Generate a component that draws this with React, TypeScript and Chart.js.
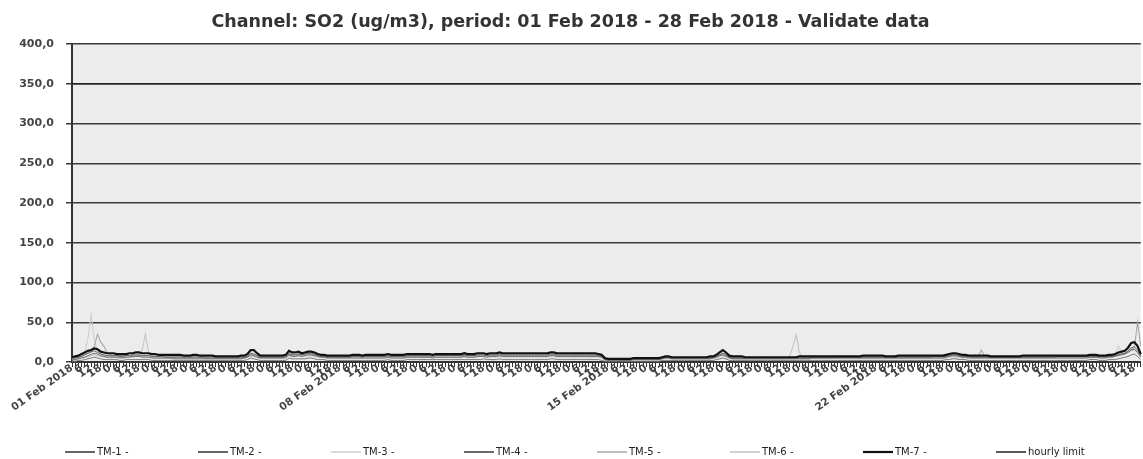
import React, { useEffect, useRef } from "react";
import { Chart, registerables } from "chart.js";

Chart.register(...registerables);

// 2-hourly samples, 12 per day, 01 Feb 2018 - 28 Feb 2018
const WEEK_LABELS = ["01 Feb 2018", "08 Feb 2018", "15 Feb 2018", "22 Feb 2018"];
const DAY_COUNT = 28;
const SAMPLES_PER_DAY = 12;
const HOURS_PER_SAMPLE = 2;

const categories: string[] = Array.from({ length: DAY_COUNT * SAMPLES_PER_DAY }, (_, i) => {
  const day = Math.floor(i / SAMPLES_PER_DAY);
  const hour = (i % SAMPLES_PER_DAY) * HOURS_PER_SAMPLE;
  if (hour === 0 && day % 7 === 0) return WEEK_LABELS[day / 7];
  return String(hour);
});

const TITLE = "Channel: SO2 (ug/m3), period: 01 Feb 2018 - 28 Feb 2018 - Validate data";
const Y_TICKS = [0, 50, 100, 150, 200, 250, 300, 350, 400];
const HOURLY_LIMIT = 350;

const tm1 = [
  5,5,6,7,9,11,13,14,12,10,9,8,
  8,8,8,7,7,8,8,9,9,9,8,8,
  8,7,7,7,7,6,6,6,6,6,6,6,
  6,6,6,6,6,6,5,5,5,5,5,5,
  5,5,5,5,5,5,6,7,11,10,8,6,
  6,6,6,6,6,6,6,7,10,9,9,10,
  9,10,11,11,10,8,7,7,6,6,6,6,
  6,6,6,6,7,7,7,6,7,7,7,7,
  7,7,7,8,7,7,7,7,7,8,8,8,
  8,8,8,8,8,7,8,8,8,8,8,8,
  8,8,8,9,8,8,8,9,9,9,8,9,
  9,9,10,9,9,9,9,9,9,9,9,9,
  9,9,9,9,9,9,10,10,9,9,9,9,
  9,9,9,9,9,9,9,9,9,8,7,3,
  3,3,3,3,3,3,3,3,4,4,4,4,
  4,4,4,4,4,5,6,6,5,5,5,5,
  5,5,5,5,5,5,5,5,5,6,7,9,
  11,9,6,5,5,5,5,5,5,5,5,5,
  5,5,5,5,5,5,5,5,5,5,5,5,
  5,5,5,5,6,6,6,6,6,6,6,6,
  6,6,6,6,6,6,6,6,6,6,6,6,
  6,6,6,6,6,6,6,6,6,6,6,6,
  6,6,6,6,6,6,7,7,7,7,7,8,
  9,9,8,7,7,7,6,6,6,6,6,6,
  6,6,6,6,6,6,6,6,6,6,6,6,
  6,6,6,6,6,6,6,6,6,7,7,7,
  7,7,7,7,7,7,7,7,7,7,7,7,
  7,7,7,8,9,10,11,14,18,19,15,8,
];

const tm2 = [
  3,3,4,5,6,8,10,11,10,8,7,6,
  6,6,6,5,5,6,6,7,7,7,6,6,
  6,5,5,5,5,5,5,5,4,4,4,4,
  4,4,4,4,4,4,4,4,4,4,4,4,
  4,4,4,4,4,4,5,6,9,8,6,5,
  5,5,5,5,5,5,5,5,9,7,7,8,
  7,8,9,9,8,7,6,6,5,5,5,5,
  5,5,5,5,5,5,5,5,5,5,5,5,
  5,5,5,6,5,5,5,5,5,6,6,6,
  6,6,6,6,6,5,6,6,6,6,6,6,
  6,6,6,7,6,6,6,7,7,7,6,7,
  7,7,8,7,7,7,7,7,7,7,7,7,
  7,7,7,7,7,7,8,8,7,7,7,7,
  7,7,7,7,7,7,7,7,7,7,6,3,
  2,2,2,2,2,2,2,2,3,3,3,3,
  3,3,3,3,3,4,5,5,4,4,4,4,
  4,4,4,4,4,4,4,4,4,5,6,8,
  9,7,5,4,4,4,4,4,4,4,4,4,
  4,4,4,4,4,4,4,4,4,4,4,4,
  4,4,4,4,5,5,5,5,5,5,5,5,
  5,5,5,5,5,5,5,5,5,5,5,5,
  5,5,5,5,5,5,5,5,5,5,5,5,
  5,5,5,5,5,5,5,5,5,5,6,7,
  8,8,7,6,6,5,5,5,5,5,5,5,
  5,5,5,5,5,5,5,5,5,5,5,5,
  5,5,5,5,5,5,5,5,5,5,5,5,
  5,5,5,5,5,5,5,6,6,6,5,5,
  5,6,6,7,8,9,10,12,15,16,12,6,
];

const tm3 = [
  4,5,6,8,12,30,60,28,14,10,8,7,
  7,7,6,6,6,6,7,7,7,7,7,6,
  6,6,6,5,5,5,5,5,5,5,5,5,
  5,5,5,5,5,5,5,5,5,5,5,5,
  5,5,5,5,5,5,5,6,8,8,6,5,
  5,5,5,5,5,5,5,6,8,7,7,8,
  7,8,8,8,7,6,6,6,5,5,5,5,
  5,5,5,5,5,5,5,5,5,5,5,5,
  5,5,5,6,5,5,5,5,5,6,6,6,
  6,6,6,6,6,6,6,6,6,6,6,6,
  6,6,6,6,6,6,6,6,7,7,6,6,
  6,6,7,6,6,6,6,6,6,6,6,6,
  6,6,6,6,6,6,7,7,6,6,6,6,
  6,6,6,6,6,6,6,6,6,6,5,3,
  3,3,3,3,3,3,3,3,3,3,3,3,
  3,3,3,3,3,4,4,4,4,4,4,4,
  4,4,4,4,4,4,4,4,4,4,5,7,
  8,7,5,4,4,4,4,4,4,4,4,4,
  4,4,4,4,4,4,4,4,4,4,4,4,
  4,4,4,4,4,4,4,4,4,4,4,4,
  4,4,4,4,4,4,4,4,4,4,4,4,
  4,4,4,4,4,4,4,4,4,4,4,4,
  4,4,4,4,4,4,4,4,4,4,5,6,
  6,6,5,5,5,5,5,5,5,5,5,5,
  5,5,5,5,5,5,5,5,5,5,5,5,
  5,5,5,5,5,5,5,5,5,5,5,5,
  5,5,5,5,5,5,5,5,5,6,6,6,
  6,7,8,10,20,12,10,12,14,15,12,6,
];

const tm4 = [
  1,1,2,2,3,4,5,6,5,4,3,3,
  3,3,3,2,2,3,3,3,3,3,3,3,
  3,2,2,2,2,2,2,2,2,2,2,2,
  2,2,2,2,2,2,2,2,2,2,2,2,
  2,2,2,2,2,2,2,3,5,4,3,2,
  2,2,2,2,2,2,2,2,5,4,4,4,
  4,4,5,5,4,3,3,3,2,2,2,2,
  2,2,2,2,2,2,2,2,2,2,2,2,
  2,2,2,3,2,2,2,2,2,3,3,3,
  3,3,3,3,3,3,3,3,3,3,3,3,
  3,3,3,3,3,3,3,3,3,4,3,3,
  3,3,4,3,3,3,3,3,3,3,3,3,
  3,3,3,3,3,3,4,4,3,3,3,3,
  3,3,3,3,3,3,3,3,3,3,2,1,
  1,1,1,1,1,1,1,1,1,1,1,1,
  1,1,1,1,1,2,2,2,2,2,2,2,
  2,2,2,2,2,2,2,2,2,2,3,4,
  5,4,2,2,2,2,2,2,2,2,2,2,
  2,2,2,2,2,2,2,2,2,2,2,2,
  2,2,2,2,2,2,2,2,2,2,2,2,
  2,2,2,2,2,2,2,2,2,2,2,2,
  2,2,2,2,2,2,2,2,2,2,2,2,
  2,2,2,2,2,2,2,2,2,2,3,3,
  4,4,3,3,3,2,2,2,2,2,2,2,
  2,2,2,2,2,2,2,2,2,2,2,2,
  2,2,2,2,2,2,2,2,2,2,2,2,
  2,2,2,2,2,2,2,3,3,3,2,2,
  2,3,3,3,4,5,6,7,9,10,7,3,
];

const tm5 = [
  5,5,6,7,9,11,13,20,35,25,20,12,
  9,8,8,8,8,8,8,8,8,8,8,8,
  8,7,7,7,7,7,7,7,7,7,7,6,
  6,6,7,7,6,6,6,6,6,6,6,6,
  6,6,6,6,6,6,6,7,10,10,8,6,
  6,6,6,6,6,6,6,7,11,9,9,10,
  9,10,10,10,9,8,7,7,7,7,7,7,
  7,7,7,7,7,7,7,7,7,7,7,7,
  7,7,7,7,7,7,7,7,7,7,7,7,
  7,7,7,7,7,7,8,8,8,8,8,8,
  8,8,8,8,8,8,8,8,8,8,8,8,
  8,8,9,8,8,8,8,8,8,8,8,8,
  8,8,8,8,8,8,9,9,8,8,8,8,
  8,8,8,8,8,8,8,8,8,8,7,4,
  4,4,4,4,4,4,4,4,4,4,4,4,
  4,4,4,4,4,5,6,6,5,5,5,5,
  5,5,5,5,5,5,5,5,5,6,7,9,
  11,9,6,5,5,5,5,5,5,5,5,5,
  5,5,5,5,5,5,5,5,5,5,5,5,
  5,5,5,5,5,5,5,5,5,5,5,5,
  6,6,6,6,6,6,6,6,6,6,6,6,
  6,6,6,6,6,6,6,6,6,6,6,6,
  6,6,6,6,6,6,6,6,6,6,7,8,
  9,9,8,7,7,7,6,6,7,15,8,6,
  6,6,6,6,6,6,6,6,6,6,6,6,
  6,6,6,6,6,6,6,6,6,6,6,6,
  6,6,6,6,6,6,6,6,6,6,6,6,
  6,7,7,8,9,10,11,13,16,18,50,20,
];

const tm6 = [
  3,3,4,5,6,7,8,9,8,7,6,6,
  6,6,6,6,6,6,6,6,7,8,15,35,
  12,6,5,5,5,5,5,5,5,5,5,5,
  5,5,5,5,5,5,5,5,5,5,5,5,
  5,5,5,5,5,5,5,6,7,7,6,5,
  5,5,5,5,5,5,5,6,15,8,7,8,
  7,8,9,9,8,7,6,6,6,6,6,6,
  6,6,6,6,6,6,6,6,6,6,6,6,
  6,6,6,6,6,6,6,6,6,6,6,6,
  6,6,6,6,6,6,6,6,6,6,6,6,
  6,6,6,7,6,6,6,7,7,7,6,7,
  7,7,7,7,7,7,7,7,7,7,7,7,
  7,7,7,7,7,7,8,8,7,7,7,7,
  7,7,7,7,7,7,7,7,7,7,6,3,
  3,3,3,3,3,3,3,3,3,3,3,3,
  3,3,3,3,3,4,5,5,4,4,4,4,
  4,4,4,4,4,4,4,4,4,5,6,8,
  9,8,5,4,4,4,4,4,4,4,4,4,
  4,4,4,4,4,4,4,4,5,8,20,34,
  12,6,5,5,5,5,5,5,5,5,5,5,
  5,5,5,5,5,5,5,5,5,5,5,5,
  5,5,5,5,5,5,5,5,5,5,5,5,
  5,5,5,5,5,5,5,5,5,5,6,7,
  7,7,6,6,6,6,6,6,6,6,6,6,
  6,6,6,6,6,6,6,6,6,6,6,6,
  6,6,6,6,6,6,6,6,6,6,6,6,
  6,6,6,6,6,6,6,6,6,7,7,7,
  7,7,7,8,9,10,11,13,15,16,14,8,
];

const tm7 = [
  6,7,8,10,12,14,15,17,16,13,12,11,
  11,11,10,10,10,10,11,11,12,12,11,11,
  11,10,10,9,9,9,9,9,9,9,9,8,
  8,8,9,9,8,8,8,8,8,7,7,7,
  7,7,7,7,7,8,8,10,15,15,11,8,
  8,8,8,8,8,8,8,9,14,12,12,13,
  11,12,13,13,12,10,9,9,8,8,8,8,
  8,8,8,8,9,9,9,8,9,9,9,9,
  9,9,9,10,9,9,9,9,9,10,10,10,
  10,10,10,10,10,9,10,10,10,10,10,10,
  10,10,10,11,10,10,10,11,11,11,10,11,
  11,11,12,11,11,11,11,11,11,11,11,11,
  11,11,11,11,11,11,12,12,11,11,11,11,
  11,11,11,11,11,11,11,11,11,10,9,5,
  4,4,4,4,4,4,4,4,5,5,5,5,
  5,5,5,5,5,6,7,7,6,6,6,6,
  6,6,6,6,6,6,6,6,7,7,9,12,
  15,12,8,7,7,7,7,6,6,6,6,6,
  6,6,6,6,6,6,6,6,6,6,6,6,
  7,7,7,7,7,7,7,7,7,7,7,7,
  7,7,7,7,7,7,7,7,8,8,8,8,
  8,8,8,7,7,7,7,8,8,8,8,8,
  8,8,8,8,8,8,8,8,8,8,9,10,
  11,11,10,9,9,8,8,8,8,8,8,8,
  7,7,7,7,7,7,7,7,7,7,8,8,
  8,8,8,8,8,8,8,8,8,8,8,8,
  8,8,8,8,8,8,8,9,9,9,8,8,
  8,9,9,10,12,13,14,18,24,25,20,10,
];

const SERIES_NAMES = ["TM-1 -", "TM-2 -", "TM-3 -", "TM-4 -", "TM-5 -", "TM-6 -", "TM-7 -", "hourly limit"];

const FONT = "'DejaVu Sans', Verdana, sans-serif";

const plotBackground = {
  id: "plotBackground",
  beforeDraw(chart: any) {
    const { ctx, chartArea } = chart;
    if (!chartArea) return;
    ctx.save();
    ctx.fillStyle = "#ececec";
    ctx.fillRect(chartArea.left, chartArea.top, chartArea.right - chartArea.left, chartArea.bottom - chartArea.top);
    ctx.restore();
  },
};

const rowLegend = {
  id: "rowLegend",
  afterDraw(chart: any) {
    const { ctx } = chart;
    ctx.save();
    ctx.font = `10px ${FONT}`;
    ctx.textBaseline = "middle";
    ctx.textAlign = "left";
    const y = chart.height - 7;
    const start = 65;
    const step = 133;
    const lineLen = 30;
    chart.data.datasets.forEach((ds: any, i: number) => {
      const x = start + i * step;
      ctx.strokeStyle = ds.legendColor || ds.borderColor;
      ctx.lineWidth = Math.max(1.5, ds.borderWidth);
      ctx.beginPath();
      ctx.moveTo(x, y);
      ctx.lineTo(x + lineLen, y);
      ctx.stroke();
      ctx.fillStyle = "#222";
      ctx.fillText(ds.label, x + lineLen + 2, y);
    });
    ctx.restore();
  },
};

export default function App() {
  const canvasRef = useRef<HTMLCanvasElement | null>(null);

  useEffect(() => {
    if (!canvasRef.current) return;
    const limitData = categories.map(() => HOURLY_LIMIT);
    const mk = (label: string, data: number[], color: string, width: number, order: number, legendColor?: string) => ({
      label,
      data,
      borderColor: color,
      backgroundColor: color,
      legendColor,
      borderWidth: width,
      pointRadius: 0,
      tension: 0,
      order,
    });
    const chart = new Chart(canvasRef.current, {
      type: "line",
      data: {
        labels: categories,
        datasets: [
          mk(SERIES_NAMES[0], tm1, "#666666", 1, 1, "#333333"),
          mk(SERIES_NAMES[1], tm2, "#707070", 1, 2, "#333333"),
          mk(SERIES_NAMES[2], tm3, "#cfcfcf", 1.1, 6),
          mk(SERIES_NAMES[3], tm4, "#7a7a7a", 1, 3, "#3a3a3a"),
          mk(SERIES_NAMES[4], tm5, "#a8a8a8", 1.1, 4),
          mk(SERIES_NAMES[5], tm6, "#c4c4c4", 1.1, 5),
          mk(SERIES_NAMES[6], tm7, "#111111", 2.2, 0),
          mk(SERIES_NAMES[7], limitData, "#222222", 1.5, 7),
        ],
      },
      options: {
        animation: false,
        responsive: true,
        maintainAspectRatio: false,
        layout: { padding: { top: 0, right: 2, bottom: 42, left: 0 } },
        plugins: {
          legend: { display: false },
          tooltip: { enabled: false },
          title: {
            display: true,
            text: TITLE,
            color: "#333",
            font: { family: FONT, size: 17.5, weight: "bold" },
            padding: { top: 11.5, bottom: 11.5 },
          },
        },
        scales: {
          x: {
            ticks: {
              autoSkip: false,
              maxRotation: 35,
              minRotation: 35,
              padding: -5,
              color: "#444",
              font: { family: FONT, size: 10.5, weight: "bold" },
              callback: (_v: any, i: number) => (i % 3 === 0 ? categories[i] : ""),
            },
            grid: { drawOnChartArea: false, tickLength: 5, tickColor: "#333", lineWidth: 1 },
            border: { color: "#333", width: 2 },
            afterFit: (s: any) => {
              s.height = 55;
            },
          },
          y: {
            min: 0,
            max: 400,
            afterBuildTicks: (s: any) => {
              s.ticks = Y_TICKS.map((v) => ({ value: v }));
            },
            ticks: {
              padding: 12,
              color: "#444",
              font: { family: FONT, size: 11, weight: "bold" },
              callback: (v: any) => Number(v).toFixed(1).replace(".", ","),
            },
            grid: { color: "#3a3a3a", lineWidth: 1.5, tickLength: 6, tickColor: "#3a3a3a" },
            border: { color: "#333", width: 2 },
            afterFit: (s: any) => {
              s.width = 72;
            },
          },
        },
      },
      plugins: [plotBackground, rowLegend],
    });
    return () => chart.destroy();
  }, []);

  return (
    <div style={{ position: "fixed", left: 0, top: 0, width: 1143, height: 459, background: "#fff" }}>
      <canvas ref={canvasRef} />
    </div>
  );
}
